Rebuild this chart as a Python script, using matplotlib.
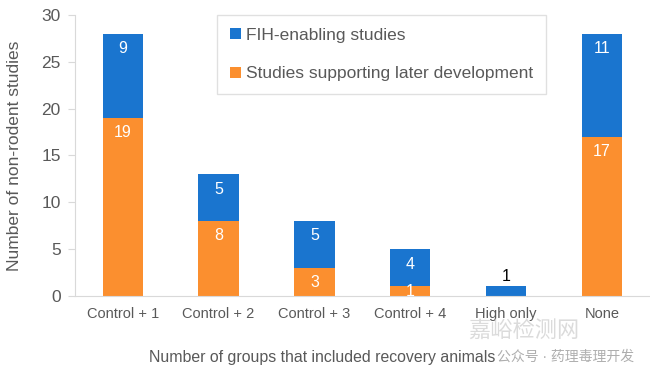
import matplotlib.pyplot as plt
import numpy as np

plt.rcParams['font.family'] = ['Liberation Sans', 'Noto Sans CJK SC', 'DejaVu Sans']

categories = ["Control + 1", "Control + 2", "Control + 3", "Control + 4", "High only", "None"]
later_dev = [19, 8, 3, 1, 0, 17]
fih = [9, 5, 5, 4, 1, 11]

blue = "#1a75cf"
orange = "#fb8f2f"
gray = "#595959"

fig = plt.figure(figsize=(6.5, 3.74), dpi=100)
ax = fig.add_axes([0.115, 0.209, 0.885, 0.751])

x = np.arange(len(categories))
b1 = ax.bar(x, later_dev, width=0.42, color=orange, label="Studies supporting later development")
b2 = ax.bar(x, fih, width=0.42, bottom=later_dev, color=blue, label="FIH-enabling studies")

# labels inside the bars
for i in range(len(categories)):
    if later_dev[i] > 0:
        ax.text(x[i], later_dev[i] - 1.6 if later_dev[i] > 2 else later_dev[i] / 2,
                str(later_dev[i]), ha="center", va="center", color="white", fontsize=11.5)
    if fih[i] > 1:
        ax.text(x[i], later_dev[i] + fih[i] - 1.6, str(fih[i]),
                ha="center", va="center", color="white", fontsize=11.5)
    elif fih[i] == 1:
        ax.text(x[i], later_dev[i] + fih[i] + 0.3, str(fih[i]),
                ha="center", va="bottom", color="black", fontsize=11.5)

ax.set_xlim(-0.5, len(categories) - 0.5)
ax.set_ylim(0, 30)
ax.set_yticks(range(0, 31, 5))
ax.set_xticks(x)
ax.set_xticklabels(categories)
ax.tick_params(axis="x", length=0, pad=8, labelsize=10.5, labelcolor=gray)
ax.tick_params(axis="y", length=5, color="#d9d9d9", labelsize=12.5, labelcolor=gray, pad=5)
for s in ["top", "right"]:
    ax.spines[s].set_visible(False)
for s in ["left", "bottom"]:
    ax.spines[s].set_color("#d9d9d9")

ax.set_ylabel("Number of non-rodent studies", color=gray, fontsize=12.5, labelpad=14)
fig.text(0.495, 0.045, "Number of groups that included recovery animals",
         ha="center", va="center", color=gray, fontsize=11.4)

handles = [b2, b1]
leg = ax.legend(handles, [h.get_label() for h in handles], loc="upper left",
                bbox_to_anchor=(0.248, 1.0), frameon=True, fancybox=False,
                edgecolor="#d9d9d9", fontsize=12.5, handlelength=0.6, handleheight=0.6,
                handletextpad=0.3, labelspacing=1.35, borderpad=0.75, borderaxespad=0)
for t in leg.get_texts():
    t.set_color(gray)

# watermark
fig.text(0.765, 0.045, "公众号 · 药理毒理开发", ha="left", va="center",
         fontsize=10, color="#9a9a9a", alpha=0.8)
fig.text(0.72, 0.115, "嘉峪检测网", ha="left", va="center",
         fontsize=16, color="#cccccc", alpha=0.7)

fig.savefig("out.png", dpi=100)
